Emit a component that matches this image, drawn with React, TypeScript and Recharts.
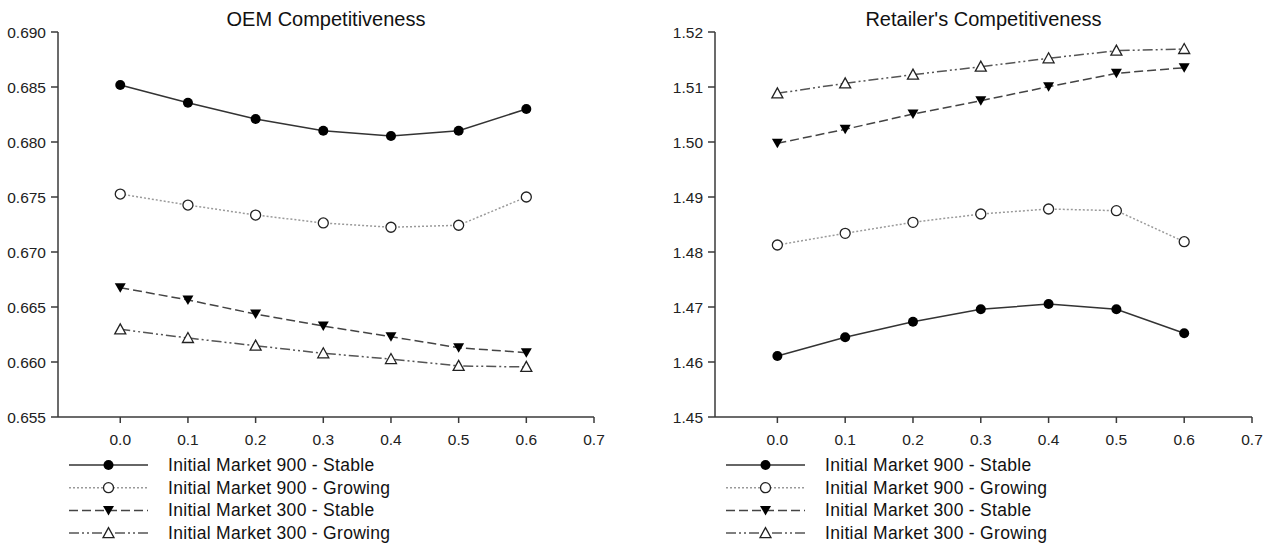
import { LineChart, Line, XAxis, YAxis } from "recharts";

const xValues = [0, 0.1, 0.2, 0.3, 0.4, 0.5, 0.6];
const xTicks = [0, 0.1, 0.2, 0.3, 0.4, 0.5, 0.6, 0.7];

// OEM competitiveness
const oemStable900 = [0.68518, 0.68357, 0.68209, 0.68103, 0.68055, 0.68103, 0.683];
const oemGrowing900 = [0.67527, 0.67427, 0.67336, 0.67264, 0.67225, 0.67243, 0.675];
const oemStable300 = [0.66676, 0.66564, 0.66436, 0.66327, 0.6623, 0.6613, 0.66085];
const oemGrowing300 = [0.66297, 0.66218, 0.66148, 0.66079, 0.66027, 0.65964, 0.65955];
const oemTicks = [0.655, 0.66, 0.665, 0.67, 0.675, 0.68, 0.685, 0.69];

// Retailer's competitiveness
const retStable900 = [1.46109, 1.46449, 1.46733, 1.46958, 1.47055, 1.46958, 1.46522];
const retGrowing900 = [1.48127, 1.4834, 1.4854, 1.48691, 1.48782, 1.48751, 1.48187];
const retStable300 = [1.49976, 1.50231, 1.50509, 1.50751, 1.51005, 1.51249, 1.51351];
const retGrowing300 = [1.50885, 1.51067, 1.51224, 1.51369, 1.51522, 1.5166, 1.51691];
const retTicks = [1.45, 1.46, 1.47, 1.48, 1.49, 1.5, 1.51, 1.52];

const seriesLabels = [
  "Initial Market 900 - Stable",
  "Initial Market 900 - Growing",
  "Initial Market 300 - Stable",
  "Initial Market 300 - Growing",
];

const FONT = "'Liberation Sans', Arial, sans-serif";
const AXIS = "#3a3a3a";

type Kind = "dot" | "ring" | "down" | "up";

const styles: { key: string; stroke: string; dash?: string; kind: Kind }[] = [
  { key: "s900", stroke: "#333", kind: "dot" },
  { key: "g900", stroke: "#9a9a9a", dash: "2 2", kind: "ring" },
  { key: "s300", stroke: "#444", dash: "9 4", kind: "down" },
  { key: "g300", stroke: "#555", dash: "10 3 2 3 2 3", kind: "up" },
];

function Marker({ kind, cx, cy }: { kind: Kind; cx: number; cy: number }) {
  if (kind === "dot") return <circle cx={cx} cy={cy} r={5} fill="#000" />;
  if (kind === "ring")
    return <circle cx={cx} cy={cy} r={5} fill="#fff" stroke="#222" strokeWidth={1.3} />;
  if (kind === "down")
    return (
      <path
        d={`M${cx - 5.5},${cy - 4.5}L${cx + 5.5},${cy - 4.5}L${cx},${cy + 5}Z`}
        fill="#000"
      />
    );
  return (
    <path
      d={`M${cx - 5.5},${cy + 4.5}L${cx + 5.5},${cy + 4.5}L${cx},${cy - 5.5}Z`}
      fill="#fff"
      stroke="#222"
      strokeWidth={1.3}
    />
  );
}

interface PanelProps {
  title: string;
  series: number[][];
  yTicks: number[];
  digits: number;
  left: number;
  width: number;
  yAxisWidth: number;
  rightMargin: number;
}

function Panel({ title, series, yTicks, digits, left, width, yAxisWidth, rightMargin }: PanelProps) {
  const rows = xValues.map((x, i) => {
    const r: Record<string, number> = { x };
    styles.forEach((s, j) => (r[s.key] = series[j][i]));
    return r;
  });
  const yDomain = [yTicks[0], yTicks[yTicks.length - 1]];
  const plotLeft = yAxisWidth;
  const plotRight = width - rightMargin;
  const mid = (plotLeft + plotRight) / 2;

  return (
    <div style={{ position: "absolute", left, top: 0, width, height: 544 }}>
      <svg width={width} height={32} style={{ position: "absolute", left: 0, top: 0 }}>
        <text x={mid} y={26} textAnchor="middle" fontFamily={FONT} fontSize={20} fill="#111">
          {title}
        </text>
      </svg>
      <div style={{ position: "absolute", left: 0, top: 0 }}>
        <LineChart
          width={width}
          height={456}
          data={rows}
          margin={{ top: 32, right: rightMargin, left: 0, bottom: 16 }}
        >
          <XAxis
            dataKey="x"
            type="number"
            domain={[-0.092, 0.7]}
            ticks={xTicks}
            allowDataOverflow
            tickFormatter={(v: number) => v.toFixed(1)}
            height={23}
            tickSize={6}
            tickMargin={11}
            stroke={AXIS}
            strokeWidth={1.5}
            tick={{ fill: "#222", fontSize: 15.5, fontFamily: FONT }}
          />
          <XAxis
            xAxisId="top"
            orientation="top"
            type="number"
            domain={[-0.092, 0.7]}
            ticks={[]}
            tick={false}
            tickLine={false}
            height={0}
            stroke={AXIS}
            strokeWidth={1.5}
          />
          <YAxis
            type="number"
            domain={yDomain}
            ticks={yTicks}
            allowDataOverflow
            tickFormatter={(v: number) => v.toFixed(digits)}
            width={yAxisWidth}
            tickSize={7}
            tickMargin={5}
            stroke={AXIS}
            strokeWidth={1.5}
            tick={{ fill: "#222", fontSize: 15.5, fontFamily: FONT }}
          />
          <YAxis
            yAxisId="right"
            orientation="right"
            type="number"
            domain={yDomain}
            ticks={[]}
            tick={false}
            tickLine={false}
            width={0}
            stroke={AXIS}
            strokeWidth={1.5}
          />
          {styles.map((s) => (
            <Line
              key={s.key}
              dataKey={s.key}
              type="linear"
              stroke={s.stroke}
              strokeWidth={1.5}
              strokeDasharray={s.dash}
              isAnimationActive={false}
              dot={(p: any) => (
                <Marker key={`${s.key}-${p.index}`} kind={s.kind} cx={p.cx} cy={p.cy} />
              )}
            />
          ))}
        </LineChart>
      </div>
      <svg width={width} height={94} style={{ position: "absolute", left: 0, top: 450 }}>
        {styles.map((s, i) => {
          const y = 15 + i * 22.7;
          return (
            <g key={s.key}>
              <line
                x1={plotLeft + 11}
                x2={plotLeft + 90}
                y1={y}
                y2={y}
                stroke={s.stroke}
                strokeWidth={1.5}
                strokeDasharray={s.dash}
              />
              <Marker kind={s.kind} cx={plotLeft + 50.5} cy={y} />
              <text
                x={plotLeft + 110}
                y={y + 6}
                fontFamily={FONT}
                fontSize={17.5}
                letterSpacing={0.3}
                fill="#111"
              >
                {seriesLabels[i]}
              </text>
            </g>
          );
        })}
      </svg>
    </div>
  );
}

export default function App() {
  return (
    <div
      style={{
        position: "absolute",
        left: 0,
        top: 0,
        width: 1269,
        height: 544,
        background: "#fff",
      }}
    >
      <Panel
        title="OEM Competitiveness"
        series={[oemStable900, oemGrowing900, oemStable300, oemGrowing300]}
        yTicks={oemTicks}
        digits={3}
        left={0}
        width={640}
        yAxisWidth={58}
        rightMargin={46}
      />
      <Panel
        title="Retailer's Competitiveness"
        series={[retStable900, retGrowing900, retStable300, retGrowing300]}
        yTicks={retTicks}
        digits={2}
        left={640}
        width={629}
        yAxisWidth={75}
        rightMargin={17}
      />
    </div>
  );
}
